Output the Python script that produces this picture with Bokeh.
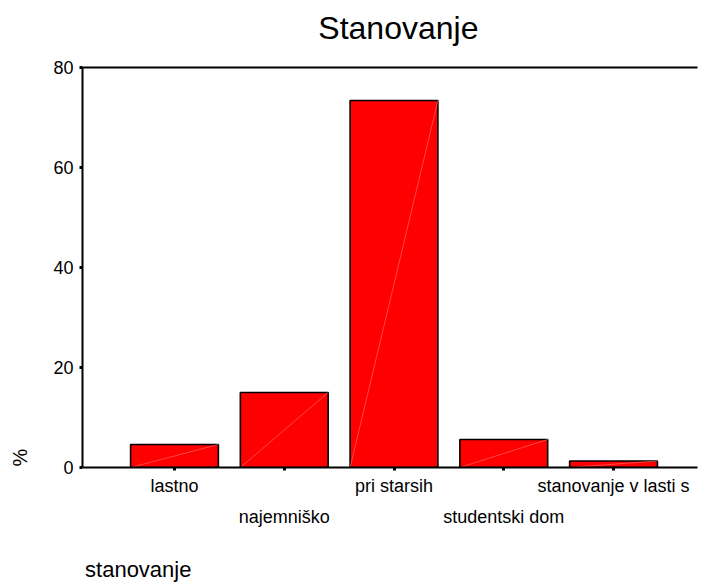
from bokeh.plotting import figure
from bokeh.models import Range1d, FixedTicker, LinearAxis
from bokeh.embed import file_html
from bokeh.resources import INLINE

# ---- data ----
categories = ["lastno", "najemniško", "pri starsih", "studentski dom", "stanovanje v lasti s"]
percent = [4.6, 15.0, 73.4, 5.6, 1.3]
y_ticks = [0, 20, 40, 60, 80]
title_text = "Stanovanje"
x_title = "stanovanje"
y_title = "%"

FONT = "Liberation Sans"
idx = list(range(len(categories)))
bar_w = 0.8

p = figure(width=701, height=585, output_backend="svg", toolbar_location=None,
           x_range=Range1d(-0.838, 4.765), y_range=Range1d(0, 80),
           min_border_left=82, min_border_right=4, min_border_top=67,
           min_border_bottom=118)
p.grid.visible = False
p.outline_line_color = None
p.background_fill_color = "white"
p.border_fill_color = "white"

x0 = [i - bar_w / 2 for i in idx]
x1 = [i + bar_w / 2 for i in idx]
p.vbar(x=idx, top=percent, bottom=0, width=bar_w,
       fill_color="#ff0000", line_color="black", line_width=1.6)
p.segment(x0=x0, y0=[0] * len(idx), x1=x1, y1=percent,
          line_color="#ff7070", line_width=0.8, line_alpha=0.8)


def plain_axis(ax, size, standoff):
    ax.major_label_text_font = FONT
    ax.major_label_text_font_size = size
    ax.major_label_text_color = "black"
    ax.major_label_standoff = standoff
    ax.minor_tick_line_color = None


# bottom axis: line, ticks, upper row of category labels
xa = p.xaxis[0]
xa.ticker = FixedTicker(ticks=idx)
xa.major_label_overrides = {i: (categories[i] if i % 2 == 0 else "") for i in idx}
plain_axis(xa, "18px", 5)
xa.axis_line_width = 2
xa.major_tick_line_width = 3
xa.major_tick_in = 0
xa.major_tick_out = 3

# second row of category labels
odd = [i for i in idx if i % 2 == 1]
xb = LinearAxis(ticker=FixedTicker(ticks=odd),
                major_label_overrides={i: categories[i] for i in odd})
plain_axis(xb, "18px", 2)
xb.axis_line_color = None
xb.major_tick_line_color = None
p.add_layout(xb, "below")

# x title near the left end
xt_pos = -0.33
xc = LinearAxis(ticker=FixedTicker(ticks=[xt_pos]),
                major_label_overrides={xt_pos: x_title})
plain_axis(xc, "22px", 21)
xc.axis_line_color = None
xc.major_tick_line_color = None
p.add_layout(xc, "below")

# y axis
ya = p.yaxis[0]
ya.ticker = FixedTicker(ticks=y_ticks)
plain_axis(ya, "18px", 6)
ya.axis_line_width = 2
ya.major_tick_line_width = 3
ya.major_tick_in = 0
ya.major_tick_out = 3

# y title "%" near the bottom of the axis
yt_pos = 2
yb = LinearAxis(ticker=FixedTicker(ticks=[yt_pos]),
                major_label_overrides={yt_pos: y_title},
                major_label_orientation="vertical")
plain_axis(yb, "20px", 14)
yb.axis_line_color = None
yb.major_tick_line_color = None
p.add_layout(yb, "left")

# top frame line with the chart title
tt_pos = 2.04
top_axis = LinearAxis(ticker=FixedTicker(ticks=[tt_pos]),
                      major_label_overrides={tt_pos: title_text})
plain_axis(top_axis, "32px", 16)
top_axis.axis_line_width = 2
top_axis.major_tick_line_color = None
p.add_layout(top_axis, "above")

open("out.html", "w").write(file_html(p, INLINE))
